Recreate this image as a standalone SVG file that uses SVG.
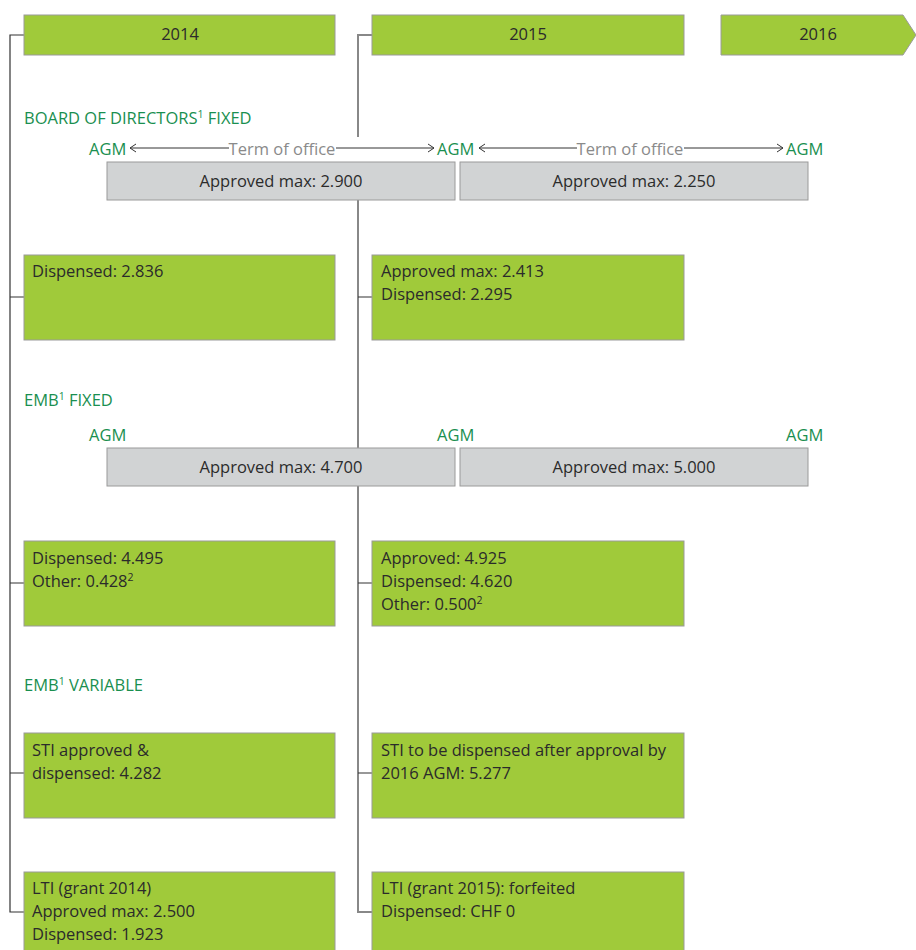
<svg xmlns="http://www.w3.org/2000/svg" width="916" height="950" viewBox="0 0 916 950">
<style>
.g{fill:#a0ca3a;stroke:#9a9a9a;stroke-width:1}
.gr{fill:#d1d3d4;stroke:#9a9a9a;stroke-width:1}
.t{font-family:"Open Sans","Noto Sans",sans-serif;font-size:16.5px;fill:#2b2b2b}
.c{text-anchor:middle}
.h{font-family:"Open Sans","Noto Sans",sans-serif;font-size:16.5px;fill:#1a8f50}
.agm{font-family:"Open Sans","Noto Sans",sans-serif;font-size:16.5px;fill:#1a8f50}
.term{font-family:"Open Sans","Noto Sans",sans-serif;font-size:16.5px;fill:#8a8a8a;text-anchor:middle}
.tree{fill:none;stroke:#333;stroke-width:1.2}
.tree2{fill:none;stroke:#888;stroke-width:2}
.tick{fill:none;stroke:#333;stroke-width:1.2}
.arr{stroke:#333;stroke-width:1;fill:none}
.sup{font-size:10.5px}
</style>
<defs>
<marker id="ah" viewBox="0 0 10 10" refX="9" refY="5" markerWidth="10" markerHeight="10" markerUnits="userSpaceOnUse" orient="auto-start-reverse">
<path d="M3,1 L9,5 L3,9" fill="none" stroke="#333" stroke-width="1"/>
</marker>
</defs>

<g id="connectors">
<path class="tree" d="M24,35 H10 V912 H24"/>
<path class="tick" d="M10,297 H24 M10,583 H24 M10,773 H24"/>
<path class="tree2" d="M372,35 H358 V137"/>
<path class="tree2" d="M358,163 V912 H372"/>
<path class="tick" d="M358,297 H372 M358,583 H372 M358,773 H372"/>
<line class="arr" x1="130" y1="148" x2="229" y2="148" marker-start="url(#ah)"/>
<line class="arr" x1="336" y1="148" x2="434" y2="148" marker-end="url(#ah)"/>
<line class="arr" x1="479" y1="148" x2="577" y2="148" marker-start="url(#ah)"/>
<line class="arr" x1="684" y1="148" x2="783" y2="148" marker-end="url(#ah)"/>
</g>

<g id="year2014"><rect class="g" x="24" y="15" width="311" height="40"/><text class="t c" x="180" y="40">2014</text></g>
<g id="year2015"><rect class="g" x="372" y="15" width="312" height="40"/><text class="t c" x="528" y="40">2015</text></g>
<g id="year2016"><polygon class="g" points="721,15 903,15 916,35 903,55 721,55"/><text class="t c" x="818" y="40">2016</text></g>

<g id="bod-label"><text class="h" x="24" y="124">BOARD OF DIRECTORS<tspan class="sup" dy="-6">1</tspan><tspan dy="6"> FIXED</tspan></text></g>
<g id="bod-agm">
<text class="agm" x="89" y="155">AGM</text>
<text class="term" x="282" y="155">Term of office</text>
<text class="agm" x="437" y="155">AGM</text>
<text class="term" x="630" y="155">Term of office</text>
<text class="agm" x="786" y="155">AGM</text>
</g>
<g id="bod-2014"><rect class="gr" x="107" y="162" width="348" height="38"/><text class="t c" x="281" y="187">Approved max: 2.900</text></g>
<g id="bod-2015"><rect class="gr" x="460" y="162" width="348" height="38"/><text class="t c" x="634" y="187">Approved max: 2.250</text></g>

<g id="bod-disp-2014"><rect class="g" x="24" y="255" width="311" height="85"/><text class="t" x="32" y="277">Dispensed: 2.836</text></g>
<g id="bod-disp-2015"><rect class="g" x="372" y="255" width="312" height="85"/><text class="t" x="381" y="277">Approved max: 2.413</text><text class="t" x="381" y="300">Dispensed: 2.295</text></g>

<g id="emb-fixed-label"><text class="h" x="24" y="406">EMB<tspan class="sup" dy="-6">1</tspan><tspan dy="6"> FIXED</tspan></text></g>
<g id="emb-agm">
<text class="agm" x="89" y="441">AGM</text>
<text class="agm" x="437" y="441">AGM</text>
<text class="agm" x="786" y="441">AGM</text>
</g>
<g id="emb-2014"><rect class="gr" x="107" y="448" width="348" height="38"/><text class="t c" x="281" y="473">Approved max: 4.700</text></g>
<g id="emb-2015"><rect class="gr" x="460" y="448" width="348" height="38"/><text class="t c" x="634" y="473">Approved max: 5.000</text></g>

<g id="emb-disp-2014"><rect class="g" x="24" y="541" width="311" height="85"/><text class="t" x="32" y="564">Dispensed: 4.495</text><text class="t" x="32" y="587">Other: 0.428<tspan class="sup" dy="-6">2</tspan></text></g>
<g id="emb-disp-2015"><rect class="g" x="372" y="541" width="312" height="85"/><text class="t" x="381" y="564">Approved: 4.925</text><text class="t" x="381" y="587">Dispensed: 4.620</text><text class="t" x="381" y="610">Other: 0.500<tspan class="sup" dy="-6">2</tspan></text></g>

<g id="emb-var-label"><text class="h" x="24" y="691">EMB<tspan class="sup" dy="-6">1</tspan><tspan dy="6"> VARIABLE</tspan></text></g>

<g id="sti-2014"><rect class="g" x="24" y="733" width="311" height="85"/><text class="t" x="32" y="756">STI approved &amp;</text><text class="t" x="32" y="779">dispensed: 4.282</text></g>
<g id="sti-2015"><rect class="g" x="372" y="733" width="312" height="85"/><text class="t" x="381" y="756">STI to be dispensed after approval by</text><text class="t" x="381" y="779">2016 AGM: 5.277</text></g>

<g id="lti-2014"><rect class="g" x="24" y="872" width="311" height="90"/><text class="t" x="32" y="894">LTI (grant 2014)</text><text class="t" x="32" y="917">Approved max: 2.500</text><text class="t" x="32" y="940">Dispensed: 1.923</text></g>
<g id="lti-2015"><rect class="g" x="372" y="872" width="312" height="90"/><text class="t" x="381" y="894">LTI (grant 2015): forfeited</text><text class="t" x="381" y="917">Dispensed: CHF 0</text></g>
</svg>
